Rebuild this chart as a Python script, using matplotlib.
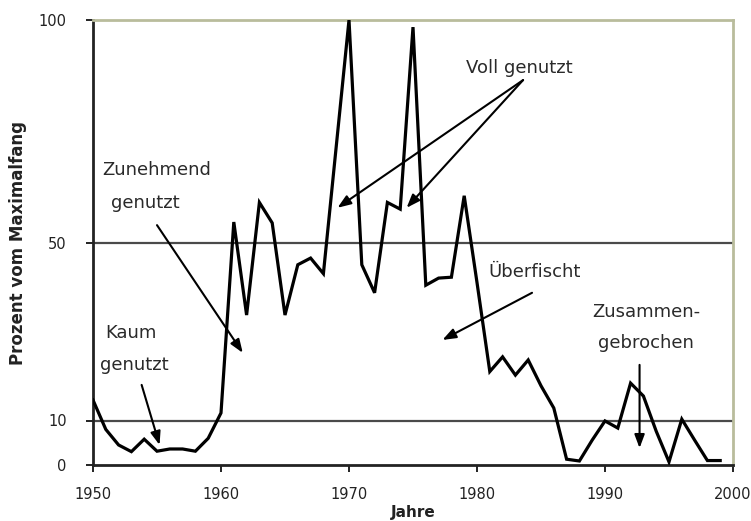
import matplotlib
matplotlib.use("Agg")
import matplotlib.pyplot as plt

years = list(range(1950, 2000))
values = [14.6, 8.0, 4.5, 3.0, 5.8, 3.1, 3.6, 3.6, 3.1, 6.0,
          11.7, 54.6, 33.7, 59.0, 54.4, 33.7, 45.0, 46.5, 43.0, 71.5,
          100.0, 45.0, 38.7, 59.0, 57.5, 98.4, 40.4, 42.0, 42.2, 60.5,
          41.0, 21.0, 24.3, 20.2, 23.6, 17.8, 12.8, 1.3, 0.9, 5.6,
          9.9, 8.3, 18.4, 15.5, 7.6, 0.7, 10.3, 5.6, 1.0, 1.0]
x_ticks = [1950, 1960, 1970, 1980, 1990, 2000]
y_ticks = [0, 10, 50, 100]
grid_levels = [10, 50]

fig = plt.figure(figsize=(7.51, 5.21), dpi=100)
ax = fig.add_axes([93/751, 1-465/521, (733-93)/751, (465-20)/521])

for g in grid_levels:
    ax.axhline(g, color="#4a4a4a", lw=1.6, zorder=1)

ax.plot(years, values, color="black", lw=2.3, zorder=3, solid_joinstyle="miter")

ax.set_xlim(1950, 2000)
ax.set_ylim(0, 100)
ax.set_xticks(x_ticks)
ax.set_yticks(y_ticks)
ax.tick_params(axis="both", direction="out", length=5, width=1.4, color="#222222",
               labelsize=10.5, labelcolor="#222222")
ax.tick_params(axis="x", pad=11)
ax.tick_params(axis="y", pad=14)

for s in ["left", "bottom"]:
    ax.spines[s].set_color("#222222")
    ax.spines[s].set_linewidth(2)
for s in ["top", "right"]:
    ax.spines[s].set_color("#b9bc9c")
    ax.spines[s].set_linewidth(2)

ax.set_xlabel("Jahre", fontsize=11, fontweight="bold", color="#222222", labelpad=2)
ax.set_ylabel("Prozent vom Maximalfang", fontsize=12, fontweight="bold",
              color="#222222", labelpad=8)

tkw = dict(fontsize=13, color="#2a2a2a", ha="center", va="center", zorder=4)
akw = dict(arrowstyle="-|>,head_length=0.8,head_width=0.3", color="black", lw=1.5,
           shrinkA=0, shrinkB=0)

ax.text(1983.3, 89.2, "Voll genutzt", **tkw)
ax.annotate("", xy=(1969.1, 57.8), xytext=(1983.6, 86.5), arrowprops=akw)
ax.annotate("", xy=(1974.5, 57.8), xytext=(1983.6, 86.5), arrowprops=akw)

ax.text(1955.0, 66.3, "Zunehmend", **tkw)
ax.text(1954.1, 58.9, "genutzt", **tkw)
ax.annotate("", xy=(1961.7, 25.2), xytext=(1955.0, 53.9), arrowprops=akw)

ax.text(1953.0, 29.7, "Kaum", **tkw)
ax.text(1953.2, 22.5, "genutzt", **tkw)
ax.annotate("", xy=(1955.2, 4.5), xytext=(1953.8, 18.0), arrowprops=akw)

ax.text(1984.5, 43.4, "Überfischt", **tkw)
ax.annotate("", xy=(1977.3, 28.1), xytext=(1984.3, 38.7), arrowprops=akw)

ax.text(1993.2, 34.4, "Zusammen-", **tkw)
ax.text(1993.2, 27.4, "gebrochen", **tkw)
ax.annotate("", xy=(1992.7, 3.8), xytext=(1992.7, 22.5), arrowprops=akw)

fig.savefig("out.png", dpi=100)
